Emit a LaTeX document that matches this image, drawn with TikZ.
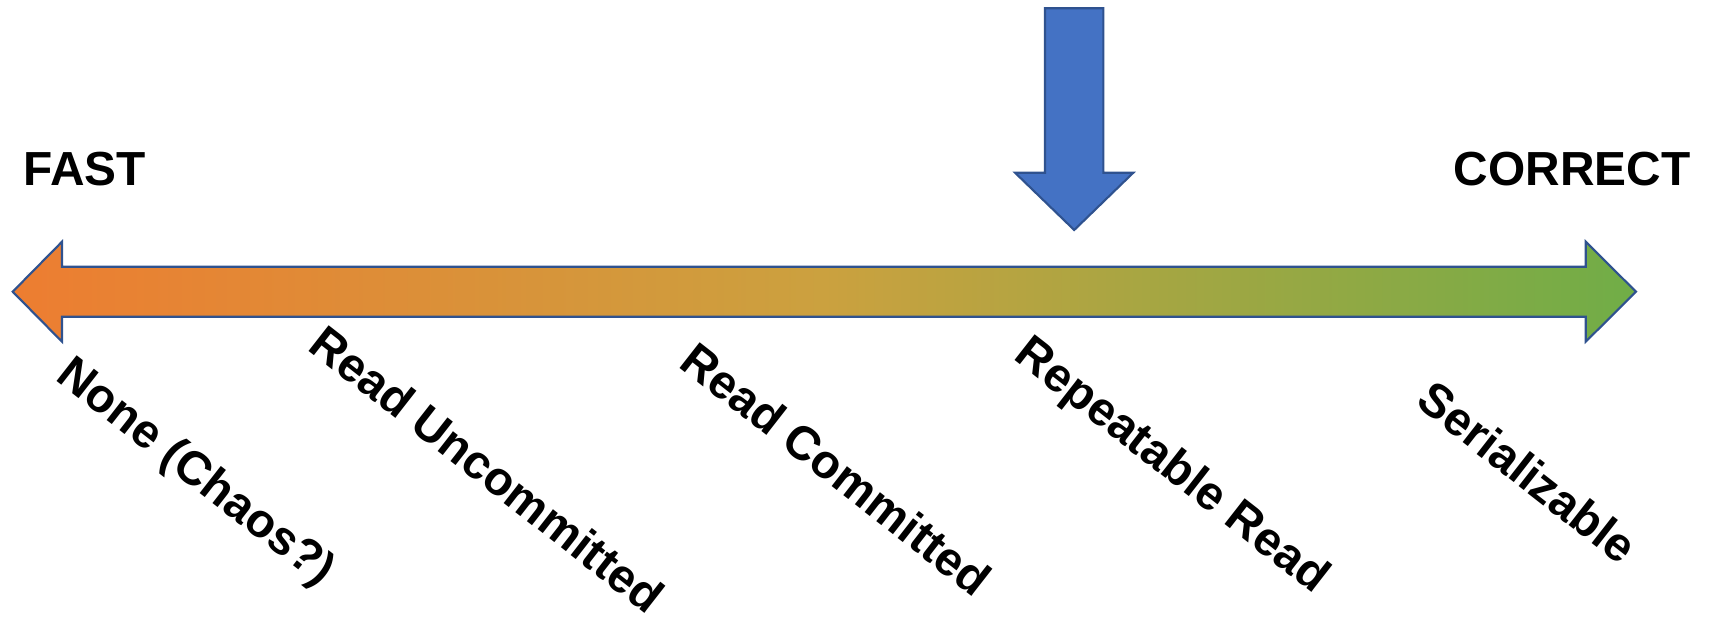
\documentclass[tikz,border=0pt]{standalone}
\usepackage{fontspec}
\setmainfont{Liberation Sans}
\definecolor{fastorange}{HTML}{ED7D31}
\definecolor{midgold}{HTML}{CBA13F}
\definecolor{correctgreen}{HTML}{70AD47}
\definecolor{markerblue}{HTML}{4472C4}
\definecolor{edgeblue}{HTML}{2F528F}
\begin{document}
\begin{tikzpicture}[x=0.01cm,y=-0.01cm,
  outline/.style={draw=edgeblue, line width=0.6pt, line join=miter},
  endlabel/.style={font=\fontsize{13.6}{16}\selectfont\bfseries, inner sep=0pt},
  levellabel/.style={font=\fontsize{13.5}{16}\selectfont\bfseries, inner sep=0pt,
                     rotate=-38, anchor=center}]
\useasboundingbox (0,0) rectangle (1713,618);

% isolation scale: double-headed arrow shaded from fast to correct
\shadedraw[outline, left color=fastorange, right color=correctgreen, middle color=midgold]
  (12.7,291.7) -- (62,241.7) -- (62,266.7) -- (1585.7,266.7) -- (1585.7,241.7)
  -- (1636,291.7) -- (1585.7,341.7) -- (1585.7,316.7) -- (62,316.7) -- (62,341.7) -- cycle;

% marker pointing at the chosen level
\filldraw[outline, fill=markerblue]
  (1045,8.3) -- (1103.3,8.3) -- (1103.3,172.7) -- (1133.3,172.7) -- (1074.2,230)
  -- (1015,172.7) -- (1045,172.7) -- cycle;

% end labels
\node[endlabel, anchor=base west] (fast) at (23,185) {FAST};
\node[endlabel, anchor=base east] (correct) at (1691,185) {CORRECT};

% isolation levels
\node[levellabel] (none) at (195,474) {None (Chaos?)};
\node[levellabel] (ru) at (487.5,469) {Read Uncommitted};
\node[levellabel] (rc) at (836.5,469) {Read Committed};
\node[levellabel] (rr) at (1171,467) {Repeatable Read};
\node[levellabel] (ser) at (1528,472) {Serializable};
\end{tikzpicture}
\end{document}
